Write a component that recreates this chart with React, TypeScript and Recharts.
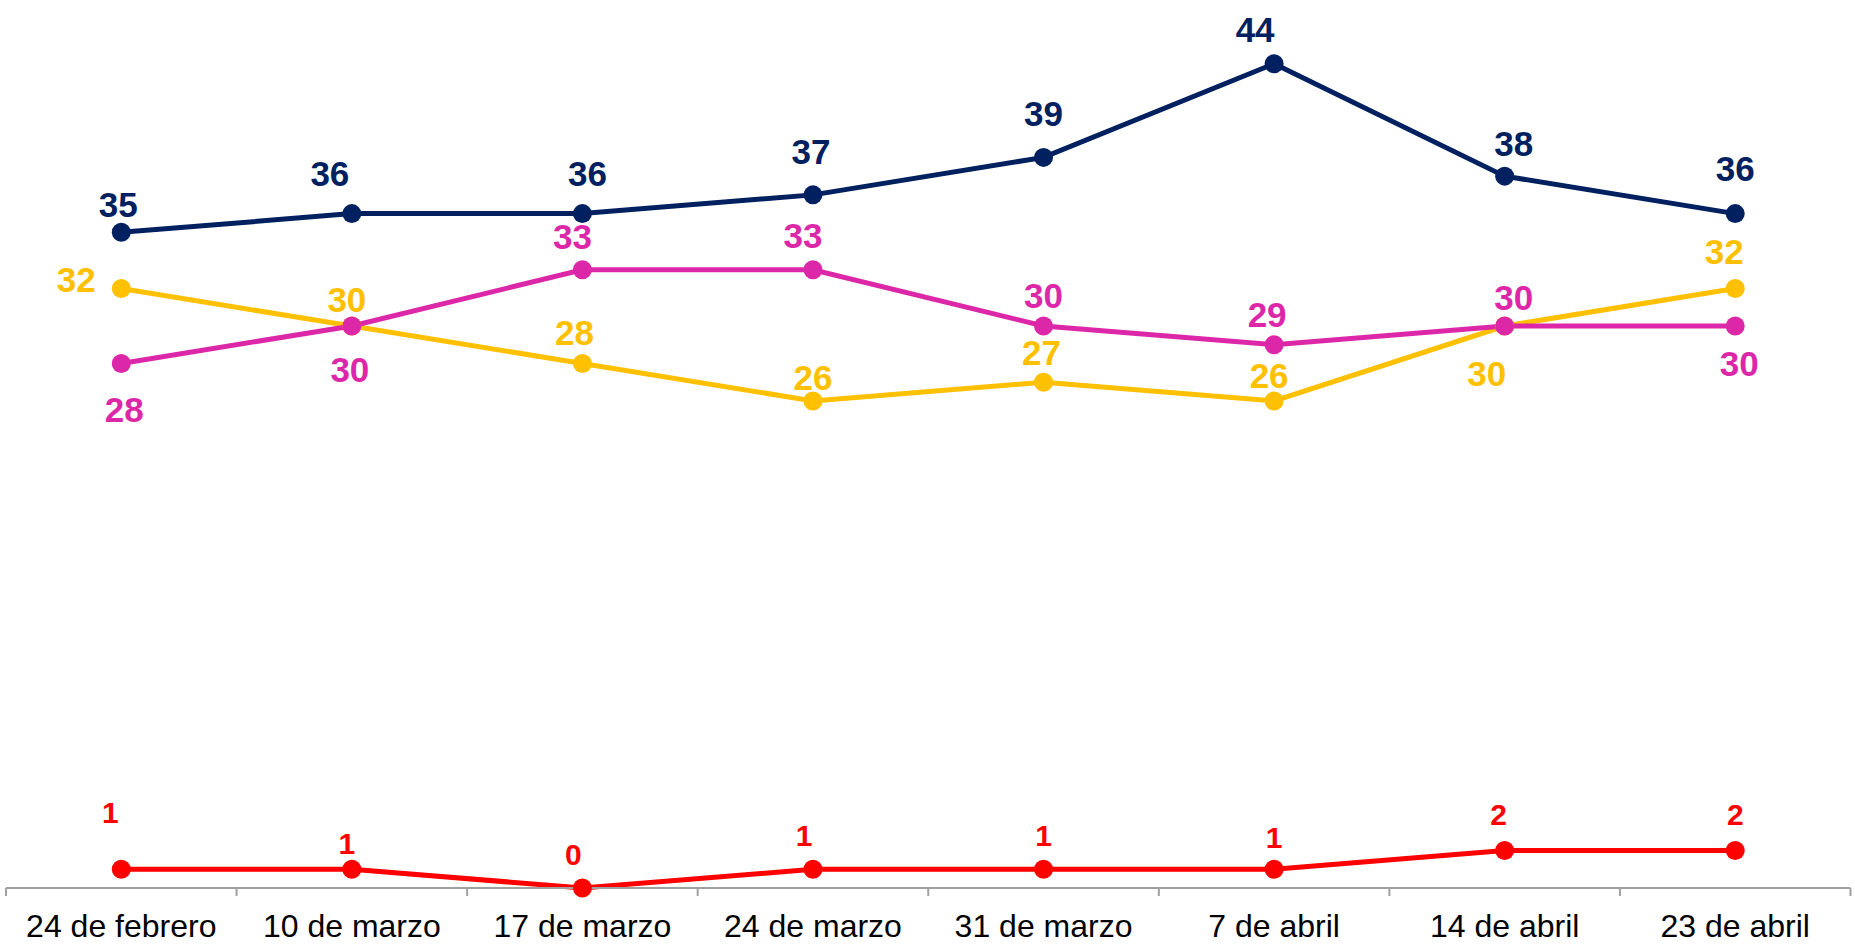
import React from "react";
import { ComposedChart, Line, LabelList, XAxis, YAxis } from "recharts";

// fechas de cada medición
const fechas = [
  "24 de febrero",
  "10 de marzo",
  "17 de marzo",
  "24 de marzo",
  "31 de marzo",
  "7 de abril",
  "14 de abril",
  "23 de abril",
];

const azul = [35, 36, 36, 37, 39, 44, 38, 36];
const amarillo = [32, 30, 28, 26, 27, 26, 30, 32];
const rosa = [28, 30, 33, 33, 30, 29, 30, 30];
const rojo = [1, 1, 0, 1, 1, 1, 2, 2];

// where each value label sits relative to its point (label centre, px)
const offAzul = [[-3, -28], [-22, -40], [5, -40], [-2, -43], [0, -44], [-19, -34], [9, -33], [0, -45]];
const offAmarillo = [[-45, -9], [-5, -27], [-8, -31], [0, -24], [-2, -30], [-5, -26], [-18, 47], [-11, -37]];
const offRosa = [[3, 46], [-2, 43], [-10, -33], [-10, -34], [0, -31], [-7, -30], [9, -29], [4, 37]];
const offRojo = [[-11, -57], [-5, -26], [-9, -34], [-9, -34], [0, -34], [0, -32], [-6, -36], [0, -36]];

const data = fechas.map((fecha, i) => ({
  fecha,
  azul: azul[i],
  amarillo: amarillo[i],
  rosa: rosa[i],
  rojo: rojo[i],
}));

const FONT = "'Liberation Sans', Arial, sans-serif";
const AXIS_GREY = "#A0A0A0";

const makeLabel = (color: string, offsets: number[][], size: number) => (props: any) => {
  const { x, y, value, index } = props;
  const [dx, dy] = offsets[index] || [0, -30];
  return (
    <text
      x={x + dx}
      y={y + dy + size * 0.36}
      textAnchor="middle"
      fill={color}
      fontFamily={FONT}
      fontWeight="bold"
      fontSize={size}
    >
      {value}
    </text>
  );
};

// label in the middle of the band, tick marks on the band edges
const FechaTick = (props: any) => {
  const { x, y, payload, index, visibleTicksCount } = props;
  const half = payload.offset || 0;
  const last = index === visibleTicksCount - 1;
  return (
    <g>
      <line x1={x - half} x2={x - half} y1={y} y2={y + 8} stroke={AXIS_GREY} strokeWidth={2} />
      {last && (
        <line x1={x + half} x2={x + half} y1={y} y2={y + 8} stroke={AXIS_GREY} strokeWidth={2} />
      )}
      <text x={x} y={y + 49} textAnchor="middle" fill="#000" fontFamily={FONT} fontSize={32}>
        {payload.value}
      </text>
    </g>
  );
};

const series = [
  { key: "rojo", color: "#FF0000", offsets: offRojo, size: 30 },
  { key: "amarillo", color: "#FFC000", offsets: offAmarillo, size: 35 },
  { key: "rosa", color: "#DC28A8", offsets: offRosa, size: 35 },
  { key: "azul", color: "#002060", offsets: offAzul, size: 35 },
];

export default function App() {
  return (
    <div style={{ position: "absolute", left: 0, top: 0, background: "#fff" }}>
      <ComposedChart
        width={1855}
        height={952}
        data={data}
        margin={{ top: 45, right: 4.5, bottom: 4, left: 6 }}
      >
        <XAxis
          dataKey="fecha"
          scale="band"
          height={60}
          axisLine={{ stroke: AXIS_GREY, strokeWidth: 2 }}
          tickLine={false}
          tickSize={0}
          tickMargin={0}
          interval={0}
          tick={<FechaTick />}
        />
        <YAxis hide domain={[0, 45]} />
        {series.map((s) => (
          <Line
            key={s.key}
            type="linear"
            dataKey={s.key}
            stroke={s.color}
            strokeWidth={5}
            dot={{ r: 9.5, fill: s.color, stroke: "none" }}
            activeDot={false}
            isAnimationActive={false}
          >
            <LabelList dataKey={s.key} content={makeLabel(s.color, s.offsets, s.size)} />
          </Line>
        ))}
      </ComposedChart>
    </div>
  );
}
